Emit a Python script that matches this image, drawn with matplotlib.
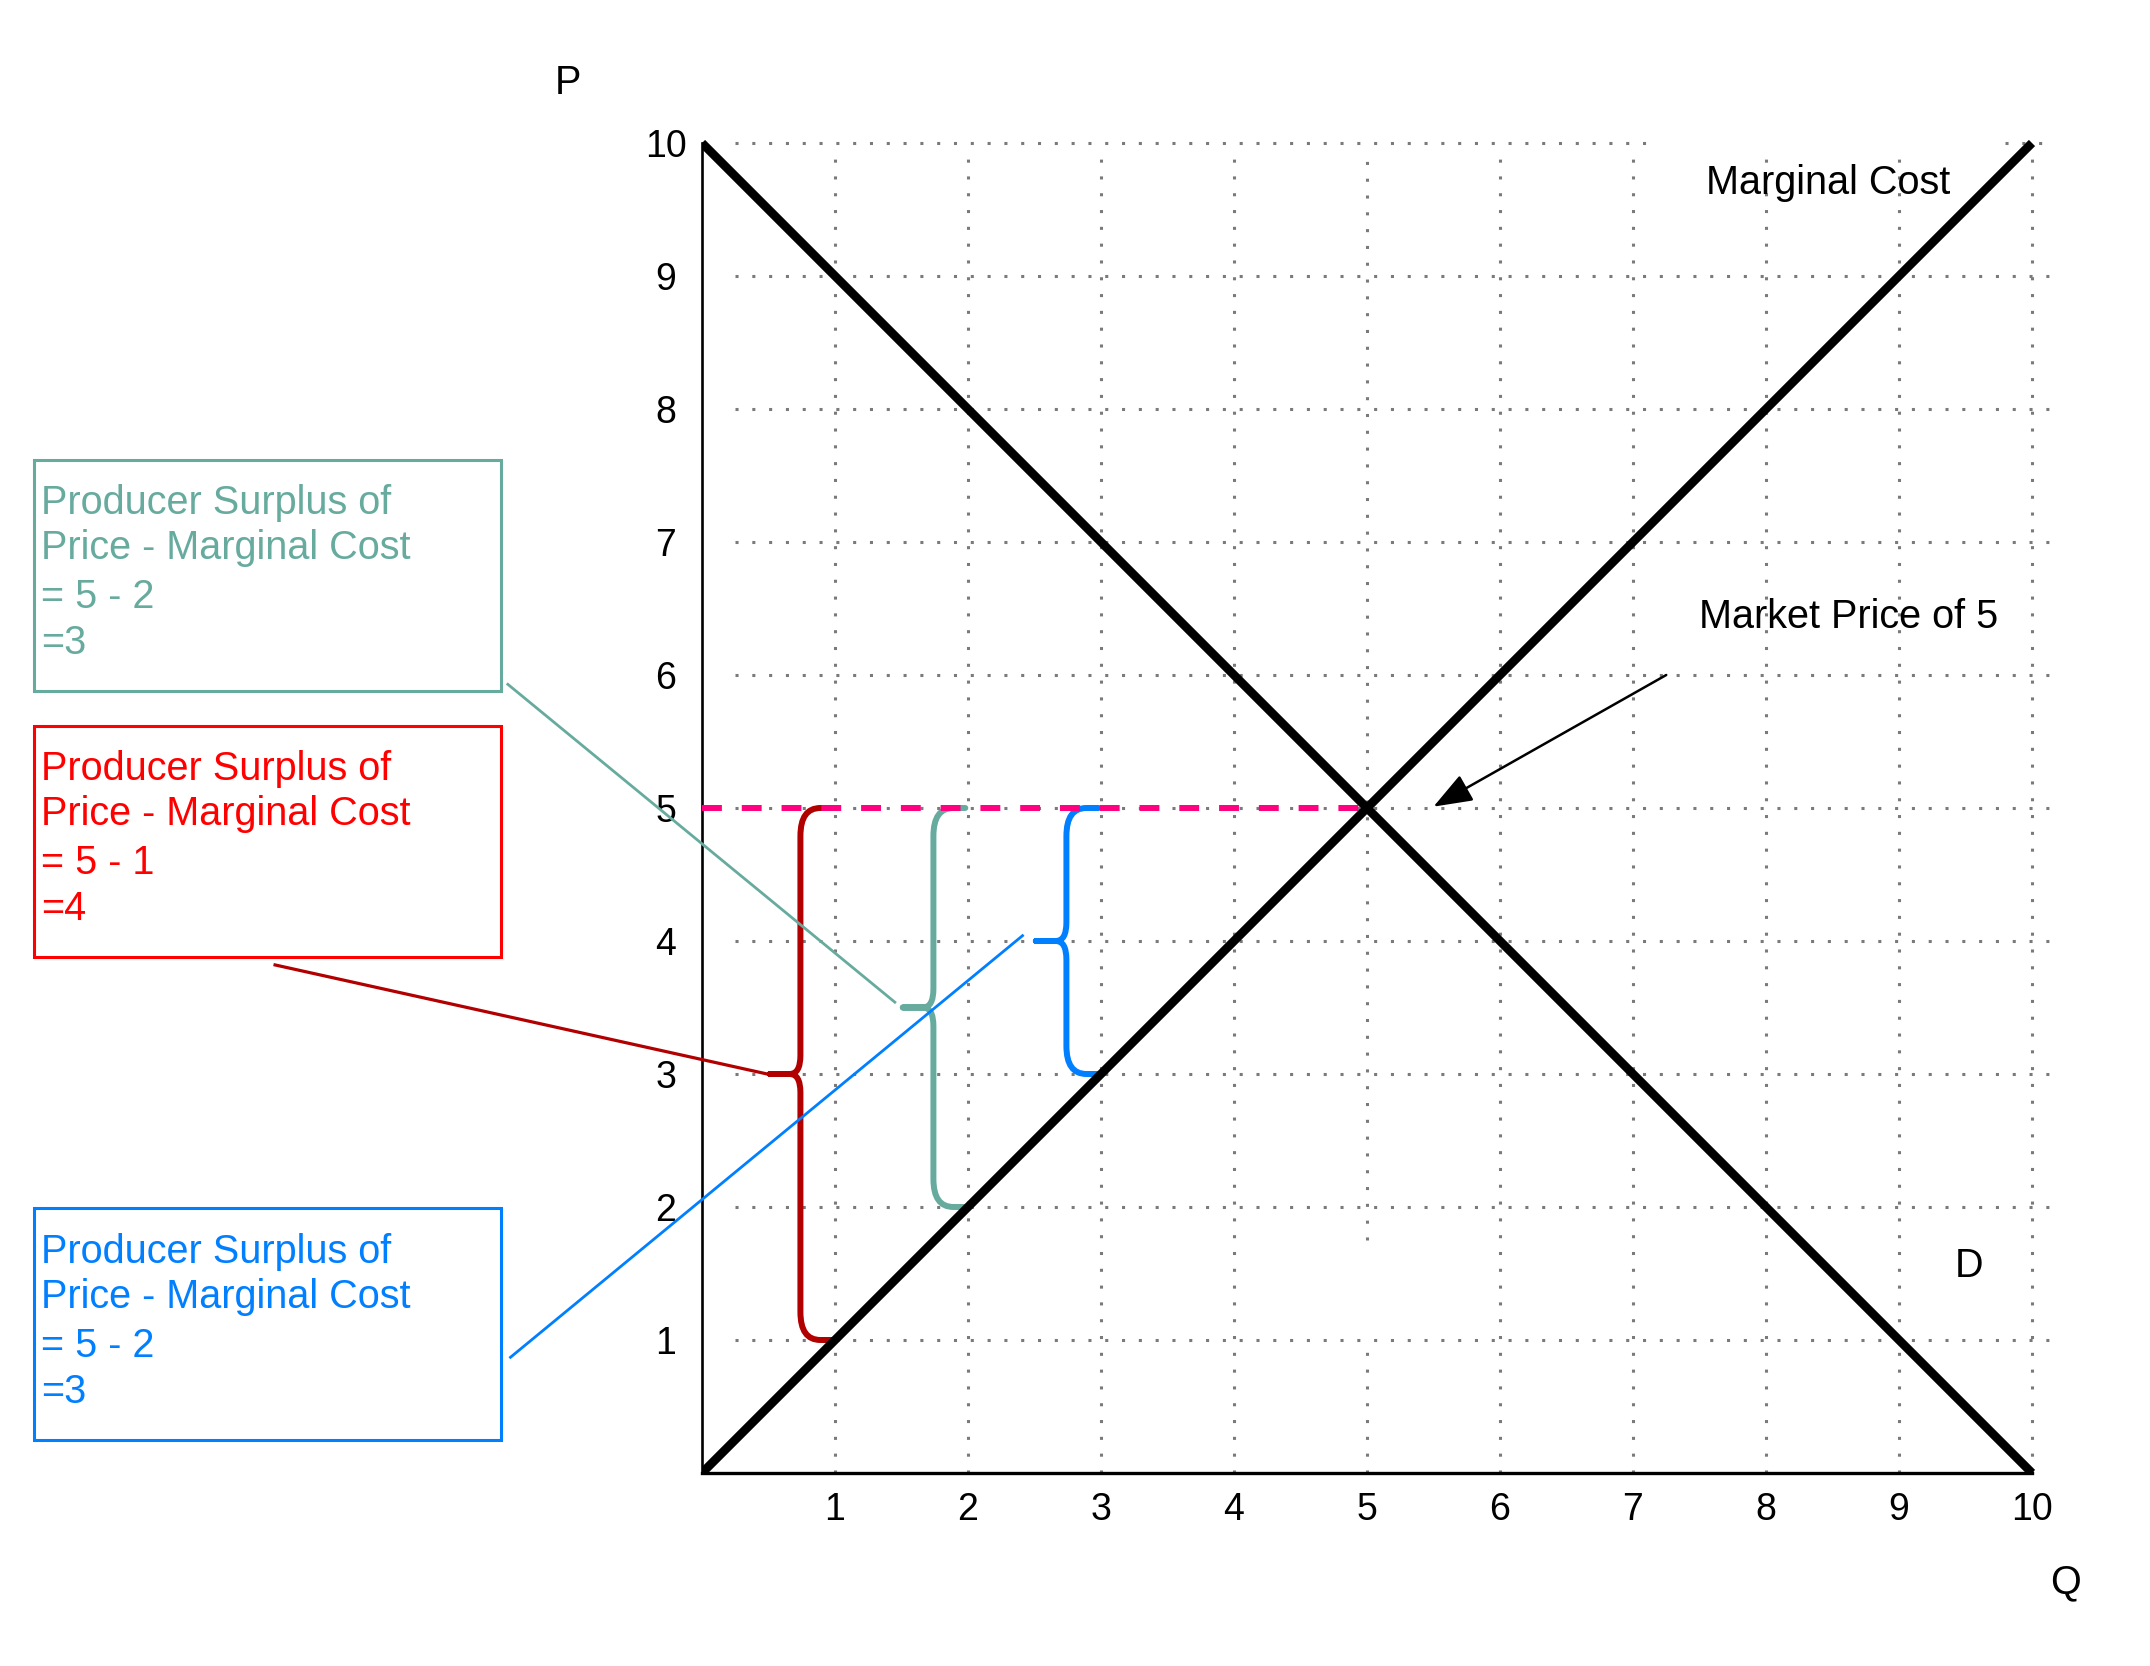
import matplotlib

matplotlib.use("Agg")
import matplotlib.pyplot as plt
from matplotlib.patches import FancyArrowPatch, PathPatch, Rectangle
from matplotlib.path import Path

plt.rcParams["font.family"] = ["Liberation Sans", "DejaVu Sans"]

# curves
demand_q = [0, 10]
demand_p = [10, 0]
mc_q = [0, 10]
mc_p = [0, 10]
market_price = 5

# producer surplus of each unit: quantity and its marginal cost
surplus_q = [1, 2, 3]
surplus_mc = [1, 2, 3]
brace_colors = ["#B20000", "#67AB9F", "#007FFF"]

ticks = list(range(1, 11))

# annotation boxes (order matches surplus_q)
box_colors = ["#FF0000", "#67AB9F", "#007FFF"]
box_text_colors = ["#FF0000", "#67AB9F", "#007FFF"]
box_bottoms = [3.88, 5.88, 0.25]
box_lines = [
    ["Producer Surplus of", "Price - Marginal Cost", "= 5 - 1", "=4"],
    ["Producer Surplus of", "Price - Marginal Cost", "= 5 - 2", "=3"],
    ["Producer Surplus of", "Price - Marginal Cost", "= 5 - 2", "=3"],
]
connector_starts = [(-3.21, 3.82), (-1.46, 5.93), (-1.44, 0.87)]
connector_ends = [(0.49, 3.0), (1.45, 3.54), (2.41, 4.04)]
connector_colors = ["#B20000", "#67AB9F", "#007FFF"]
connector_widths = [2.3, 2.0, 2.0]

BOX_X0, BOX_W, BOX_H = -5.02, 3.51, 1.74
LINE_OFFSETS = [0.41, 0.75, 1.12, 1.46]
TEXT_SIZE = 28.5
GRID = dict(color="#7a7a7a", lw=2.2, linestyle=(0, (1, 4.5)), dash_capstyle="butt", zorder=1)


def brace(ax, xv, ylo, yhi, color):
    ymid = (ylo + yhi) / 2
    x_tip = xv - 0.23
    x_end = xv + 0.24
    rx, ry, cx, cy = 0.15, 0.21, 0.08, 0.14
    verts = [
        (x_end, yhi), (xv + rx, yhi), (xv, yhi), (xv, yhi - ry),
        (xv, ymid + cy), (xv, ymid), (xv - cx, ymid), (x_tip, ymid),
        (xv - cx, ymid), (xv, ymid), (xv, ymid - cy),
        (xv, ylo + ry), (xv, ylo), (xv + rx, ylo), (x_end, ylo),
    ]
    codes = [
        Path.MOVETO, Path.LINETO, Path.CURVE3, Path.CURVE3,
        Path.LINETO, Path.CURVE3, Path.CURVE3, Path.LINETO,
        Path.LINETO, Path.CURVE3, Path.CURVE3,
        Path.LINETO, Path.CURVE3, Path.CURVE3, Path.LINETO,
    ]
    ax.add_patch(PathPatch(Path(verts, codes), fill=False, edgecolor=color, lw=4.3,
                           joinstyle="round", capstyle="round", zorder=3))


fig = plt.figure(figsize=(21.5, 16.66), dpi=100)
ax = fig.add_axes([0.32651, 0.11585, 0.63716, 0.82227])
ax.set_xlim(0, 10.3)
ax.set_ylim(0, 10.3)

# dotted grid
for y in ticks:
    if y == 10:
        ax.plot([0.25, 7.15], [y, y], **GRID)
        ax.plot([9.8, 10.15], [y, y], **GRID)
    else:
        ax.plot([0.25, 10.15], [y, y], **GRID)
for x in ticks:
    if x == 5:
        ax.plot([x, x], [0, 1.0], **GRID)
        ax.plot([x, x], [1.75, 9.9], **GRID)
    else:
        ax.plot([x, x], [0, 9.9], **GRID)

for spine in ["top", "right"]:
    ax.spines[spine].set_visible(False)
ax.spines["left"].set_bounds(0, 10)
ax.spines["bottom"].set_bounds(0, 10)
ax.spines["left"].set_linewidth(1.9)
ax.spines["bottom"].set_linewidth(2.4)

ax.set_xticks(ticks)
ax.set_yticks(ticks)
ax.set_xticklabels([str(t) for t in ticks])
ax.set_yticklabels([str(t) for t in ticks])
ax.tick_params(axis="x", length=0, pad=13.5, labelsize=27)
ax.tick_params(axis="y", length=0, pad=26, labelsize=27)
for lbl in ax.get_yticklabels():
    lbl.set_horizontalalignment("center")

# braces under the price line
for q, mc, color in zip(surplus_q, surplus_mc, brace_colors):
    brace(ax, q - 0.26, mc, market_price, color)

ax.plot([0, market_price], [market_price, market_price], color="#FF0080", lw=4.3,
        linestyle=(0, (3.33, 3.33)), dash_capstyle="butt", zorder=4)

ax.plot(demand_q, demand_p, color="black", lw=6.3, solid_capstyle="butt", zorder=5)
ax.plot(mc_q, mc_p, color="black", lw=6.3, solid_capstyle="butt", zorder=5)

# boxes and connectors
for i, lines in enumerate(box_lines):
    y0 = box_bottoms[i]
    ax.add_patch(Rectangle((BOX_X0, y0), BOX_W, BOX_H, fill=False, edgecolor=box_colors[i],
                           lw=2.2, clip_on=False, zorder=3))
    for text, off in zip(lines, LINE_OFFSETS):
        ax.text(BOX_X0 + 0.05, y0 + BOX_H - off, text, color=box_text_colors[i],
                fontsize=TEXT_SIZE, ha="left", va="baseline", clip_on=False)
    (x1, y1), (x2, y2) = connector_starts[i], connector_ends[i]
    ax.plot([x1, x2], [y1, y2], color=connector_colors[i], lw=connector_widths[i],
            clip_on=False, zorder=3)

ax.text(8.47, 9.62, "Marginal Cost", fontsize=TEXT_SIZE, ha="center", va="baseline")
ax.text(8.62, 6.35, "Market Price of 5", fontsize=TEXT_SIZE, ha="center", va="baseline")
ax.text(9.53, 1.56, "D", fontsize=TEXT_SIZE, ha="center", va="center")
ax.text(-1.01, 10.45, "P", fontsize=TEXT_SIZE, ha="center", va="center", clip_on=False)
ax.text(10.25, -0.82, "Q", fontsize=TEXT_SIZE, ha="center", va="center", clip_on=False)

ax.add_patch(FancyArrowPatch((7.25, 6.0), (5.5, 5.01), arrowstyle="-|>,head_length=1.2,head_width=0.45",
                             mutation_scale=20, color="black", lw=1.8, shrinkA=0, shrinkB=0, zorder=6))

fig.savefig("out.png", dpi=100)
